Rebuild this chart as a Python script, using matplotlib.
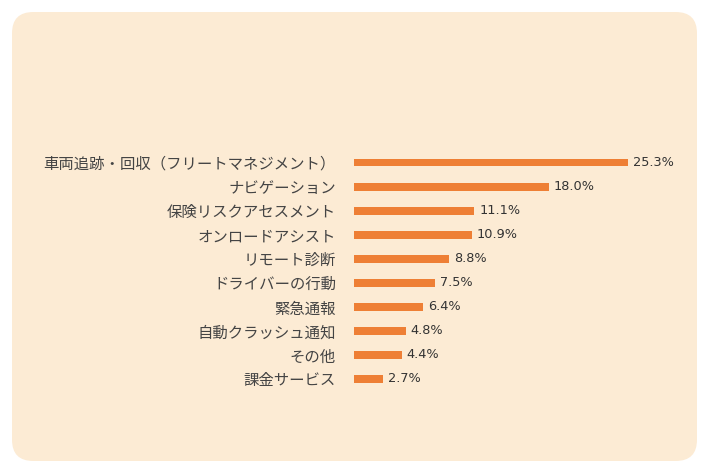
import matplotlib
matplotlib.use("Agg")
import matplotlib.pyplot as plt
from matplotlib.patches import FancyBboxPatch

plt.rcParams['font.family'] = ['Noto Sans CJK JP', 'DejaVu Sans']

categories = ["車両追跡・回収（フリートマネジメント）", "ナビゲーション", "保険リスクアセスメント",
              "オンロードアシスト", "リモート診断", "ドライバーの行動", "緊急通報",
              "自動クラッシュ通知", "その他", "課金サービス"]
values = [25.3, 18.0, 11.1, 10.9, 8.8, 7.5, 6.4, 4.8, 4.4, 2.7]
value_labels = ["25.3%", "18.0%", "11.1%", "10.9%", "8.8%", "7.5%", "6.4%", "4.8%", "4.4%", "2.7%"]

W, H = 710, 474
fig = plt.figure(figsize=(W / 100, H / 100), dpi=100)
fig.patch.set_facecolor("white")

bg = FancyBboxPatch((12 / W, 13 / H), (697 - 12) / W, (462 - 13) / H,
                    boxstyle="round,pad=0,rounding_size=0.03",
                    transform=fig.transFigure, facecolor="#FCEBD4", edgecolor="none",
                    mutation_aspect=W / H, zorder=-5)
fig.patches.append(bg)

xmax = 30
px_per = (628 - 354) / 25.3
ax_left = 354 / W
ax_w = xmax * px_per / W
row = (379 - 162.5) / 9
top = 162.5 - row / 2
bottom = 379 + row / 2
ax = fig.add_axes([ax_left, 1 - bottom / H, ax_w, (bottom - top) / H])
ax.set_facecolor("none")
ax.set_zorder(2)

y = list(range(len(categories)))
ax.barh(y, values, height=0.33, color="#EE7F35", zorder=2)
ax.set_ylim(len(categories) - 0.5, -0.5)
ax.set_xlim(0, xmax)
for yi, v, t in zip(y, values, value_labels):
    ax.text(v + 0.45, yi, t, va="center", ha="left", fontsize=9.3,
            family="DejaVu Sans", color="#333333")

ax.set_yticks(y)
ax.set_yticklabels(categories, fontsize=11.1, color="#444444")
ax.tick_params(axis="y", length=0, pad=13)
ax.set_xticks([])
for s in ax.spines.values():
    s.set_visible(False)

fig.savefig("out.png", dpi=100, facecolor=fig.get_facecolor())
